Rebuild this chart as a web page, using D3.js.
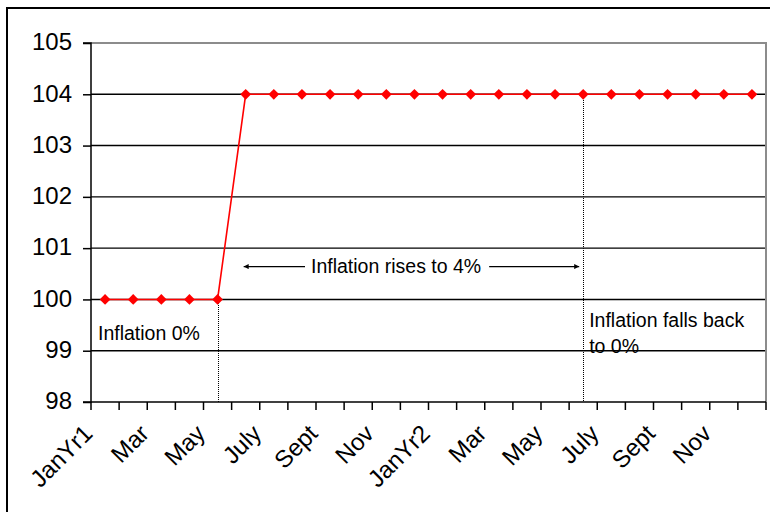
<!DOCTYPE html>
<html>
<head>
<meta charset="utf-8">
<script src="https://cdn.jsdelivr.net/npm/d3@7"></script>
<style>
  html, body { margin: 0; padding: 0; background: #fff; }
  svg { display: block; font-family: "Liberation Sans", Arial, sans-serif; }
</style>
</head>
<body>
<svg id="chart" width="770" height="512"></svg>
<script>
// Months across two years; every other one is labelled on the axis
const categories = ["JanYr1", "Feb", "Mar", "Apr", "May", "June", "July", "Aug", "Sept", "Oct", "Nov", "Dec",
                    "JanYr2", "Feb", "Mar", "Apr", "May", "June", "July", "Aug", "Sept", "Oct", "Nov", "Dec"];
// Price level index by month
const priceLevel = [100, 100, 100, 100, 100, 104, 104, 104, 104, 104, 104, 104,
                    104, 104, 104, 104, 104, 104, 104, 104, 104, 104, 104, 104];
const yTicks = [98, 99, 100, 101, 102, 103, 104, 105];
// Months where inflation changes (start and end of the 4% period)
const markerMonths = [4, 17];
const notes = [
  { lines: ["Inflation 0%"], month: 0, value: 99.35 },
  { lines: ["Inflation falls back", "to 0%"], month: 17, value: 99.6 }
];
const arrowNote = { text: "Inflation rises to 4%", from: 5, to: 17, value: 100.64 };

const svg = d3.select("#chart");
const W = 770, H = 512;
const plot = { left: 91, right: 766, top: 43, bottom: 402 };

const x = d3.scaleBand().domain(d3.range(categories.length)).range([plot.left, plot.right]).padding(0);
const cx = i => x(i) + x.bandwidth() / 2;
const y = d3.scaleLinear().domain([98, 105]).range([plot.bottom, plot.top]);

// Arrowheads
const defs = svg.append("defs");
defs.append("marker").attr("id", "arrow").attr("viewBox", "0 0 10 10")
  .attr("refX", 10).attr("refY", 5).attr("markerWidth", 7).attr("markerHeight", 5)
  .attr("markerUnits", "userSpaceOnUse").attr("orient", "auto")
  .append("path").attr("d", "M0,0 L10,5 L0,10 Z").attr("fill", "#000");

// Outer chart border
svg.append("rect").attr("x", 7).attr("y", 8).attr("width", W + 20).attr("height", H + 20)
  .attr("fill", "none").attr("stroke", "#000").attr("stroke-width", 2);

// Horizontal gridlines
svg.append("g").selectAll("line").data(yTicks.filter(v => v > 98 && v < 105)).join("line")
  .attr("x1", plot.left).attr("x2", plot.right)
  .attr("y1", d => y(d)).attr("y2", d => y(d))
  .attr("stroke", "#000").attr("stroke-width", 1.4);

// Plot area border (top and right)
svg.append("path")
  .attr("d", `M${plot.left},${y(105)} H${plot.right} V${plot.bottom}`)
  .attr("fill", "none").attr("stroke", "#8c8c8c").attr("stroke-width", 2);

// Y axis
const yAxis = d3.axisLeft(y).tickValues(yTicks).tickSize(8).tickPadding(11).tickFormat(d3.format("d"));
const gy = svg.append("g").attr("transform", `translate(${plot.left},0)`).call(yAxis);
gy.select(".domain").attr("stroke", "#000").attr("stroke-width", 1.5).attr("d", `M-8,${plot.bottom}H0V${plot.top}H-8`);
gy.selectAll(".tick line").attr("stroke", "#000").attr("stroke-width", 1.5);
gy.selectAll(".tick text").attr("font-size", 24).attr("fill", "#000")
  .attr("font-family", "Liberation Sans, Arial, sans-serif").attr("dy", "0.28em");

// X axis: ticks at month boundaries
const gx = svg.append("g");
gx.append("line").attr("x1", plot.left).attr("x2", plot.right)
  .attr("y1", plot.bottom).attr("y2", plot.bottom).attr("stroke", "#000").attr("stroke-width", 1.5);
gx.selectAll("line.tk").data(d3.range(categories.length + 1)).join("line").attr("class", "tk")
  .attr("x1", i => i < categories.length ? x(i) : plot.right)
  .attr("x2", i => i < categories.length ? x(i) : plot.right)
  .attr("y1", plot.bottom).attr("y2", plot.bottom + 8)
  .attr("stroke", "#000").attr("stroke-width", 1.5);
gx.selectAll("text").data(d3.range(0, categories.length, 2)).join("text")
  .attr("transform", i => `translate(${cx(i) - 11},${plot.bottom + 33}) rotate(-45)`)
  .attr("text-anchor", "end").attr("font-size", 24).attr("fill", "#000")
  .text(i => categories[i]);

// Dotted drop lines where inflation changes
svg.append("g").selectAll("line").data(markerMonths).join("line")
  .attr("x1", i => Math.round(cx(i)) + 0.5).attr("x2", i => Math.round(cx(i)) + 0.5)
  .attr("y1", i => y(priceLevel[i])).attr("y2", plot.bottom)
  .attr("stroke", "#000").attr("stroke-width", 1).attr("stroke-dasharray", "1,1")
  .attr("shape-rendering", "crispEdges");

// Price level series
const line = d3.line().x((d, i) => cx(i)).y(d => y(d));
svg.append("path").datum(priceLevel).attr("d", line)
  .attr("fill", "none").attr("stroke", "#ff0000").attr("stroke-width", 1.6);
const diamond = d3.symbol().type(d3.symbolSquare).size(58);
svg.append("g").selectAll("path").data(priceLevel).join("path")
  .attr("d", diamond)
  .attr("transform", (d, i) => `translate(${cx(i)},${y(d)}) rotate(45)`)
  .attr("fill", "#ff0000");

// Text notes
notes.forEach(n => {
  const t = svg.append("text").attr("font-size", 19.5).attr("fill", "#000");
  n.lines.forEach((s, k) => {
    t.append("tspan").attr("x", n.month === 0 ? plot.left + 7 : cx(n.month) + 6)
      .attr("y", y(n.value) + 7 + k * 26).text(s);
  });
});

// Double-headed arrow with label
const ay = y(arrowNote.value);
const ax1 = cx(arrowNote.from) - 2, ax2 = cx(arrowNote.to) - 4;
const label = svg.append("text").attr("font-size", 19.5).attr("fill", "#000")
  .attr("x", 311).attr("y", ay + 6).text(arrowNote.text);
const tw = label.node().getComputedTextLength();
svg.append("line").attr("x1", 305).attr("x2", ax1).attr("y1", ay).attr("y2", ay)
  .attr("stroke", "#000").attr("stroke-width", 1.2).attr("marker-end", "url(#arrow)");
svg.append("line").attr("x1", 311 + tw + 8).attr("x2", ax2).attr("y1", ay).attr("y2", ay)
  .attr("stroke", "#000").attr("stroke-width", 1.2).attr("marker-end", "url(#arrow)");
</script>
</body>
</html>
